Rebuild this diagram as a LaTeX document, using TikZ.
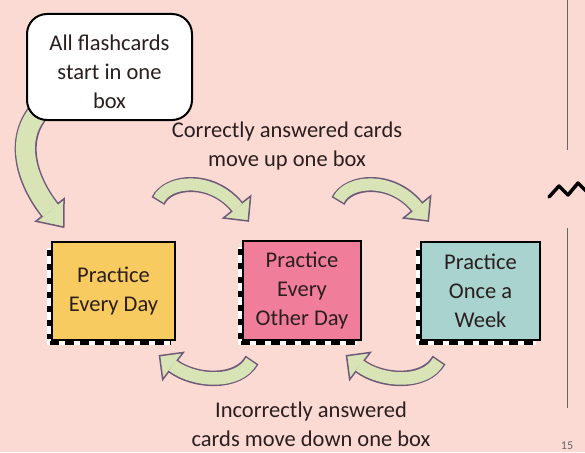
\documentclass[tikz,border=0pt]{standalone}
\usepackage{fontspec}
\setmainfont{Carlito}
\usetikzlibrary{calc}
\definecolor{bgpink}{HTML}{FCDAD4}
\definecolor{boxyellow}{HTML}{F8CB60}
\definecolor{boxpink}{HTML}{F07E9B}
\definecolor{boxteal}{HTML}{A8D3CF}
\definecolor{arrowfill}{HTML}{D8E4B6}
\definecolor{arrowline}{HTML}{6F5B79}
\definecolor{textcol}{HTML}{2A1E1E}
\newcommand\blockarrow[8]{%
  % #1 start, #2 ctrl1, #3 ctrl2, #4 base mid, #5 shaft width, #6 shaft+outline width, #7 half base, #8 head length
  \draw[line width=#6, draw=arrowline] #1 .. controls #2 and #3 .. #4;
  \filldraw[fill=arrowfill, draw=arrowline, line width=1.5pt, line join=miter]
    ($#4!#7!90:#3$) -- ($#4!-#8!#3$) -- ($#4!#7!-90:#3$) -- cycle;
  \draw[line width=#5, draw=arrowfill, shorten <=1.5pt, shorten >=-1pt] #1 .. controls #2 and #3 .. #4;
}
\tikzset{
  txt/.style={text=textcol, font=\fontsize{22.5}{29}\selectfont, align=center},
  pbox/.style={txt, draw=black, line width=2pt, inner sep=0pt},
  startbox/.style={draw=black, fill=white, line width=2pt, rounded corners=20pt,
    minimum width=165pt, minimum height=106pt},
  stripleft/.style={line width=3.5pt, draw=black, dash pattern=on 6pt off 8pt},
  stripbottom/.style={line width=3.5pt, draw=black, dash pattern=on 9pt off 6pt},
}
\begin{document}
\begin{tikzpicture}[x=1pt,y=-1pt]
\useasboundingbox (0,0) rectangle (585,452);
\fill[bgpink] (0,0) rectangle (585,452);

% right margin line and zigzag
\draw[line width=1pt, draw=black!60] (567,0) -- (567,150);
\draw[line width=1pt, draw=black!60] (567,228) -- (567,408);
\draw[line width=3.5pt, line join=round, line cap=round] (549,197) -- (559,186) -- (568,195) -- (578,183) -- (586,191);
\node[text=black!60, font=\fontsize{12}{14}\selectfont, anchor=south] (pagenum) at (567,453) {15};

% arrow coordinates
\coordinate (a0) at (37,114); \coordinate (a1) at (14,145); \coordinate (a2) at (30,185); \coordinate (a3) at (50,210);
\coordinate (b0) at (158,201); \coordinate (b1) at (168,180); \coordinate (b2) at (212,176); \coordinate (b3) at (237,207);
\coordinate (c0) at (338,201); \coordinate (c1) at (348,180); \coordinate (c2) at (392,176); \coordinate (c3) at (417,207);
\coordinate (d0) at (252,360); \coordinate (d1) at (238,385); \coordinate (d2) at (194,382); \coordinate (d3) at (173,366);
\coordinate (e0) at (439,360); \coordinate (e1) at (425,385); \coordinate (e2) at (381,382); \coordinate (e3) at (360,366);

\blockarrow{(a0)}{(a1)}{(a2)}{(a3)}{19pt}{22pt}{18pt}{22pt}
\blockarrow{(b0)}{(b1)}{(b2)}{(b3)}{12pt}{15pt}{17.5pt}{18pt}
\blockarrow{(c0)}{(c1)}{(c2)}{(c3)}{12pt}{15pt}{17.5pt}{18pt}
\blockarrow{(d0)}{(d1)}{(d2)}{(d3)}{12.5pt}{15.5pt}{17pt}{17pt}
\blockarrow{(e0)}{(e1)}{(e2)}{(e3)}{12.5pt}{15.5pt}{17pt}{17pt}

% start box
\node[startbox, label={[txt, yshift=-5pt]center:All flashcards\\start in one\\box}] (start) at (109.5,67) {};

% shadow strips
\fill[white] (47,248) rectangle (171,345);
\draw[stripleft] (49,250) -- (49,339);
\draw[stripbottom] (50,343) -- (171,343);
\fill[white] (238,247) rectangle (357,345);
\draw[stripleft] (240,249) -- (240,339);
\draw[stripbottom] (241,343) -- (357,343);
\fill[white] (416,248) rectangle (536,345);
\draw[stripleft] (418,250) -- (418,339);
\draw[stripbottom] (419,343) -- (536,343);

% boxes
\node[pbox, fill=boxyellow, minimum width=123pt, minimum height=98pt] (daily) at (113.5,291) {Practice\\Every Day};
\node[pbox, fill=boxpink, minimum width=118pt, minimum height=99pt] (other) at (302,290.5) {Practice\\Every\\Other Day};
\node[pbox, fill=boxteal, minimum width=119pt, minimum height=98pt] (weekly) at (480.5,291) {Practice\\Once a\\Week};

% captions
\node[txt] (up) at (287,146) {Correctly answered cards\\move up one box};
\node[txt] (down) at (311,424) {Incorrectly answered\\cards move down one box};
\end{tikzpicture}
\end{document}
